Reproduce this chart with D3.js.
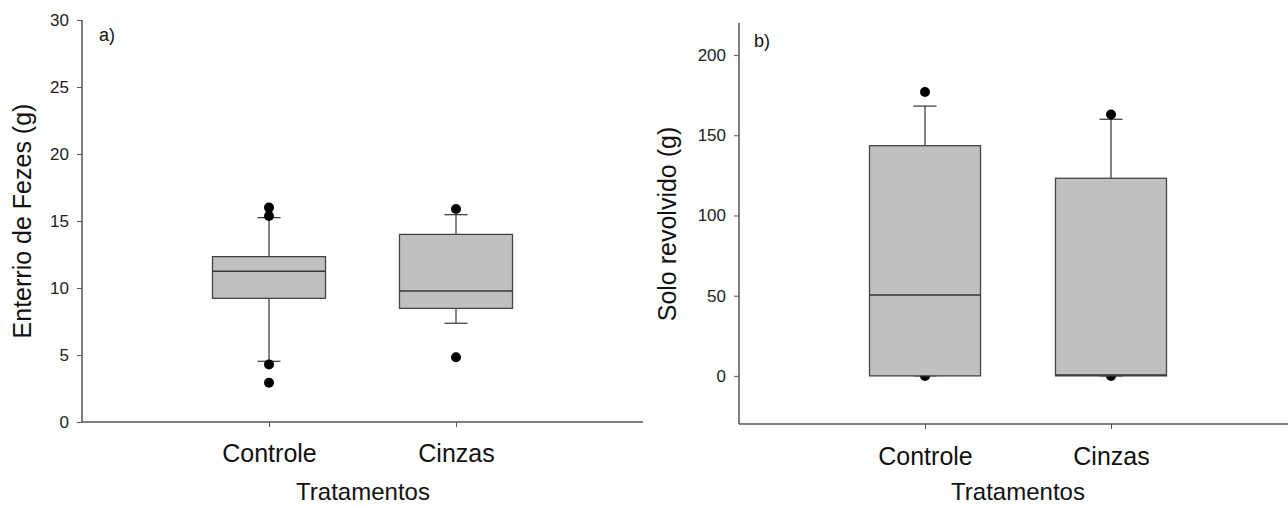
<!DOCTYPE html>
<html><head><meta charset="utf-8">
<script src="https://cdn.jsdelivr.net/npm/d3@7"></script>
<style>body{margin:0;background:#fff}svg{display:block;font-family:Arial,"Liberation Sans",sans-serif}</style>
</head><body><svg id="c" width="1288" height="508"></svg>
<script>
const categories = ["Controle", "Cinzas"];
// panel a: Enterrio de Fezes (g)
const aQ1 = [9.23, 8.48], aMed = [11.25, 9.78], aQ3 = [12.34, 14.0];
const aLow = [4.53, 7.37], aHigh = [15.25, 15.47];
const aOut = [[16.0, 15.37, 4.3, 2.93], [15.9, 4.83]];
const aTicks = [0, 5, 10, 15, 20, 25, 30];
// panel b: Solo revolvido (g)
const bQ1 = [0, 0], bMed = [50.5, 0.6], bQ3 = [143.5, 123.2];
const bLow = [0, 0], bHigh = [168.2, 160];
const bOut = [[177, 0], [163, 0]];
const bTicks = [0, 50, 100, 150, 200];

const svg = d3.select("#c");
const axisCol = "#555";

function panel(o) {
  const g = svg.append("g");
  const y = d3.scaleLinear().domain(o.domain).range([o.y0, o.y1]);
  const x = d3.scalePoint().domain(categories).range(o.xr);
  // y axis
  const ya = g.append("g").attr("transform", `translate(${o.ax},0)`)
    .call(d3.axisLeft(y).tickValues(o.ticks).tickSize(5).tickPadding(8).tickSizeOuter(0));
  ya.select(".domain").remove();
  ya.selectAll("line").attr("stroke", axisCol);
  ya.selectAll("text").attr("font-size", 17).attr("fill", "#222");
  g.append("line").attr("x1", o.ax).attr("x2", o.ax).attr("y1", o.y0).attr("y2", o.y1)
    .attr("stroke", axisCol).attr("stroke-width", 1.5);
  // x axis
  const xa = g.append("g").attr("transform", `translate(0,${o.y0})`)
    .call(d3.axisBottom(x).tickSize(5).tickPadding(o.xpad).tickSizeOuter(0));
  xa.select(".domain").remove();
  xa.selectAll("line").attr("stroke", axisCol);
  xa.selectAll("text").attr("font-size", 25).attr("fill", "#111");
  g.append("line").attr("x1", o.ax).attr("x2", o.xEnd).attr("y1", o.y0).attr("y2", o.y0)
    .attr("stroke", axisCol).attr("stroke-width", 1.5);
  const bw = o.bw, cw = 23;
  categories.forEach((c, i) => {
    const cx = x(c);
    // whiskers
    g.append("line").attr("x1", cx).attr("x2", cx).attr("y1", y(o.q3[i])).attr("y2", y(o.hi[i])).attr("stroke", "#333").attr("stroke-width", 1.2);
    g.append("line").attr("x1", cx).attr("x2", cx).attr("y1", y(o.q1[i])).attr("y2", y(o.lo[i])).attr("stroke", "#333").attr("stroke-width", 1.2);
    g.append("line").attr("x1", cx - cw/2).attr("x2", cx + cw/2).attr("y1", y(o.hi[i])).attr("y2", y(o.hi[i])).attr("stroke", "#333").attr("stroke-width", 1.2);
    g.append("line").attr("x1", cx - cw/2).attr("x2", cx + cw/2).attr("y1", y(o.lo[i])).attr("y2", y(o.lo[i])).attr("stroke", "#333").attr("stroke-width", 1.2);
    o.out[i].forEach(v => g.append("circle").attr("cx", cx).attr("cy", y(v)).attr("r", 5).attr("fill", "#000"));
    // box
    g.append("rect").attr("x", cx - bw/2).attr("width", bw)
      .attr("y", y(o.q3[i])).attr("height", y(o.q1[i]) - y(o.q3[i]))
      .attr("fill", "#c0c0c0").attr("stroke", "#444").attr("stroke-width", 1.3);
    g.append("line").attr("x1", cx - bw/2).attr("x2", cx + bw/2).attr("y1", y(o.med[i])).attr("y2", y(o.med[i])).attr("stroke", "#333").attr("stroke-width", 1.5);
  });
  g.append("text").attr("x", o.lx).attr("y", o.ly).attr("font-size", 18).attr("fill", "#111").text(o.label);
  g.append("text").attr("x", o.xtx).attr("y", 500).attr("text-anchor", "middle").attr("font-size", 24).attr("fill", "#111").text("Tratamentos");
  g.append("text").attr("transform", `translate(${o.ytx},${o.yty}) rotate(-90)`).attr("text-anchor", "middle")
    .attr("font-size", 25).attr("fill", "#111").text(o.ytitle);
}

panel({domain: [0, 30], y0: 422, y1: 20, ax: 82, xEnd: 643, xr: [269, 456], bw: 113, ticks: aTicks, xpad: 17,
  q1: aQ1, med: aMed, q3: aQ3, lo: aLow, hi: aHigh, out: aOut,
  label: "a)", lx: 99, ly: 41, xtx: 363, ytx: 31, yty: 221, ytitle: "Enterrio de Fezes (g)"});
panel({domain: [-30, 220], y0: 424, y1: 23, ax: 739, xEnd: 1288, xr: [925, 1111], bw: 111, ticks: bTicks, xpad: 18,
  q1: bQ1, med: bMed, q3: bQ3, lo: bLow, hi: bHigh, out: bOut,
  label: "b)", lx: 754, ly: 47, xtx: 1018, ytx: 676, yty: 224, ytitle: "Solo revolvido (g)"});
</script></body></html>
